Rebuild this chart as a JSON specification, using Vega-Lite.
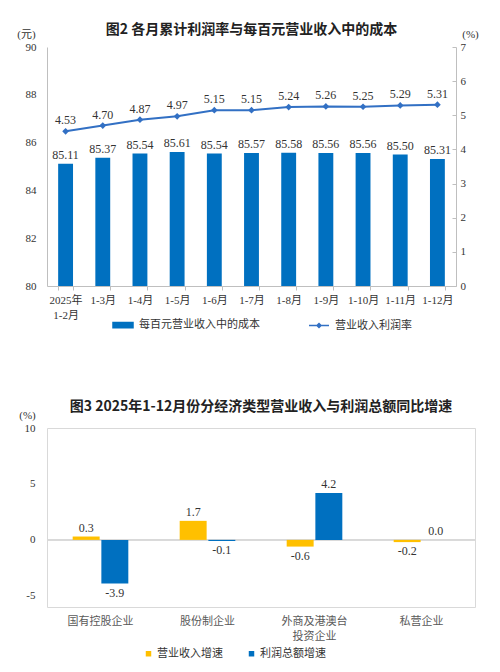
{
  "$schema": "https://vega.github.io/schema/vega-lite/v6.json",
  "background": "white",
  "padding": {"top": 23, "left": 16, "right": 0, "bottom": 0},
  "config": {
    "view": {"stroke": null},
    "font": "Liberation Serif, Noto Sans CJK SC",
    "locale": {"number": {"decimal": ".", "thousands": ",", "grouping": [3], "currency": ["", ""], "minus": "-"}},
    "axis": {
      "grid": false,
      "labelFont": "Liberation Serif, Noto Sans CJK SC",
      "labelFontSize": 11,
      "labelColor": "#333333",
      "labelOverlap": false,
      "titleFont": "Liberation Serif, Noto Sans CJK SC",
      "titleFontSize": 11,
      "titleFontWeight": "normal",
      "titleColor": "#333333"
    },
    "title": {"font": "Noto Sans CJK SC", "fontSize": 14, "fontWeight": "bold", "color": "#222222", "anchor": "middle", "frame": "group"},
    "legend": {"labelFont": "Noto Sans CJK SC", "labelFontSize": 11, "labelColor": "#333333"}
  },
  "bounds": "flush",
  "spacing": 142,
  "resolve": {"scale": {"color": "independent"}, "legend": {"color": "independent"}},
  "vconcat": [
    {
      "width": 409,
      "height": 239,
      "title": {"text": "图2 各月累计利润率与每百元营业收入中的成本", "offset": -9},
      "data": {
        "values": [
          {"month": "2025年\n1-2月", "cost": 85.11, "rate": 4.53},
          {"month": "1-3月", "cost": 85.37, "rate": 4.70},
          {"month": "1-4月", "cost": 85.54, "rate": 4.87},
          {"month": "1-5月", "cost": 85.61, "rate": 4.97},
          {"month": "1-6月", "cost": 85.54, "rate": 5.15},
          {"month": "1-7月", "cost": 85.57, "rate": 5.15},
          {"month": "1-8月", "cost": 85.58, "rate": 5.24},
          {"month": "1-9月", "cost": 85.56, "rate": 5.26},
          {"month": "1-10月", "cost": 85.56, "rate": 5.25},
          {"month": "1-11月", "cost": 85.50, "rate": 5.29},
          {"month": "1-12月", "cost": 85.31, "rate": 5.31}
        ]
      },
      "encoding": {
        "x": {
          "field": "month",
          "type": "nominal",
          "sort": null,
          "scale": {"paddingInner": 0.6, "paddingOuter": 0.3},
          "axis": {
            "title": null,
            "labelAngle": 0,
            "labelExpr": "split(datum.label, '\\n')",
            "labelLineHeight": 15,
            "labelPadding": 4,
            "domainColor": "#bfbfbf",
            "tickColor": "#bfbfbf",
            "tickBand": "extent",
            "tickSize": 4
          }
        }
      },
      "layer": [
        {
          "encoding": {
            "y": {
              "field": "cost",
              "type": "quantitative",
              "scale": {"domain": [80, 90]},
              "axis": {
                "title": "(元)",
                "titleAngle": 0,
                "titleAlign": "center",
                "titleBaseline": "middle",
                "titleX": -21,
                "titleY": -13,
                "values": [80, 82, 84, 86, 88, 90],
                "ticks": false,
                "domainColor": "#bfbfbf",
                "labelPadding": 11
              }
            }
          },
          "layer": [
            {
              "mark": {"type": "bar", "clip": true},
              "encoding": {
                "color": {
                  "datum": "每百元营业收入中的成本",
                  "type": "nominal",
                  "scale": {"domain": ["每百元营业收入中的成本", "营业收入利润率"], "range": ["#0070c0", "#3270c4"]},
                  "legend": {
                    "title": null,
                    "orient": "none",
                    "legendX": 65,
                    "legendY": 267,
                    "direction": "horizontal",
                    "symbolSize": 400,
                    "columnPadding": 46,
                    "labelOffset": 5,
                    "encode": {
                      "symbols": {
                        "update": {
                          "shape": {"signal": "datum.value == '营业收入利润率' ? 'M-1,0H1M0,-0.2L0.2,0L0,0.2L-0.2,0Z' : 'M-1,-0.27H1V0.27H-1Z'"},
                          "fill": {"signal": "datum.value == '营业收入利润率' ? '#3270c4' : '#0070c0'"},
                          "stroke": {"signal": "datum.value == '营业收入利润率' ? '#3270c4' : '#0070c0'"},
                          "strokeWidth": {"value": 1.5},
                          "opacity": {"value": 1}
                        }
                      }
                    }
                  }
                }
              }
            },
            {
              "mark": {"type": "text", "baseline": "bottom", "dy": -2, "fontSize": 12, "font": "Liberation Serif", "color": "#333333"},
              "encoding": {
                "text": {"field": "cost", "type": "quantitative", "format": ".2f"}
              }
            }
          ]
        },
        {
          "encoding": {
            "y": {
              "field": "rate",
              "type": "quantitative",
              "scale": {"domain": [0, 7]},
              "axis": {
                "orient": "right",
                "title": "(%)",
                "titleAngle": 0,
                "titleAlign": "center",
                "titleBaseline": "middle",
                "titleX": 14,
                "titleY": -13,
                "values": [0, 1, 2, 3, 4, 5, 6, 7],
                "domainColor": "#bfbfbf",
                "tickColor": "#bfbfbf",
                "tickSize": -4,
                "labelPadding": 8
              }
            }
          },
          "layer": [
            {
              "mark": {"type": "line", "strokeWidth": 2},
              "encoding": {
                "color": {"datum": "营业收入利润率", "type": "nominal"}
              }
            },
            {
              "mark": {"type": "point", "shape": "diamond", "filled": true, "size": 45, "opacity": 1, "color": "#3270c4"}
            },
            {
              "mark": {"type": "text", "baseline": "bottom", "dy": -4, "fontSize": 12, "font": "Liberation Serif", "color": "#333333"},
              "encoding": {
                "text": {"field": "rate", "type": "quantitative", "format": ".2f"}
              }
            }
          ]
        }
      ],
      "resolve": {"scale": {"y": "independent"}}
    },
    {
      "width": 428,
      "height": 179,
      "title": {"text": "图3 2025年1-12月份分经济类型营业收入与利润总额同比增速", "offset": -5},
      "view": {"stroke": "#d9d9d9"},
      "data": {
        "values": [
          {"cat": "国有控股企业", "series": "营业收入增速", "value": 0.3},
          {"cat": "国有控股企业", "series": "利润总额增速", "value": -3.9},
          {"cat": "股份制企业", "series": "营业收入增速", "value": 1.7},
          {"cat": "股份制企业", "series": "利润总额增速", "value": -0.1},
          {"cat": "外商及港澳台\n投资企业", "series": "营业收入增速", "value": -0.6},
          {"cat": "外商及港澳台\n投资企业", "series": "利润总额增速", "value": 4.2},
          {"cat": "私营企业", "series": "营业收入增速", "value": -0.2},
          {"cat": "私营企业", "series": "利润总额增速", "value": 0.0}
        ]
      },
      "layer": [
        {
          "mark": {"type": "rule", "color": "#d9d9d9", "strokeWidth": 1},
          "encoding": {"y": {"datum": 0, "type": "quantitative"}}
        },
        {
          "mark": {"type": "bar"},
          "encoding": {
            "x": {
              "field": "cat",
              "type": "nominal",
              "sort": null,
              "scale": {"paddingInner": 0.48, "paddingOuter": 0.24},
              "axis": {
                "title": null,
                "labelAngle": 0,
                "labelExpr": "split(datum.label, '\\n')",
                "labelLineHeight": 15,
                "labelFont": "Noto Sans CJK SC",
                "labelColor": "#595959",
                "labelPadding": 8,
                "domain": false,
                "ticks": false
              }
            },
            "xOffset": {"field": "series", "type": "nominal", "sort": null, "scale": {"paddingInner": 0.06}},
            "y": {
              "field": "value",
              "type": "quantitative",
              "scale": {"domain": [-5, 10]},
              "axis": {
                "title": "(%)",
                "titleAngle": 0,
                "titleAlign": "center",
                "titleBaseline": "middle",
                "titleX": -20,
                "titleY": -13,
                "values": [-5, 0, 5, 10],
                "domain": false,
                "ticks": false,
                "labelPadding": 12
              }
            },
            "color": {
              "field": "series",
              "type": "nominal",
              "sort": null,
              "scale": {"domain": ["营业收入增速", "利润总额增速"], "range": ["#ffc000", "#0070c0"]},
              "legend": {
                "title": null,
                "orient": "none",
                "legendX": 96,
                "legendY": 220,
                "direction": "horizontal",
                "symbolType": "square",
                "symbolSize": 30,
                "columnPadding": 23,
                "labelOffset": 3
              }
            }
          }
        },
        {
          "mark": {"type": "text", "baseline": "middle", "dy": {"expr": "datum.value < 0 ? 9 : -9"}, "fontSize": 12, "font": "Liberation Serif", "color": "#333333"},
          "encoding": {
            "x": {"field": "cat", "type": "nominal", "sort": null},
            "xOffset": {"field": "series", "type": "nominal", "sort": null},
            "y": {"field": "value", "type": "quantitative"},
            "text": {"field": "value", "type": "quantitative", "format": ".1f"}
          }
        }
      ]
    }
  ]
}
